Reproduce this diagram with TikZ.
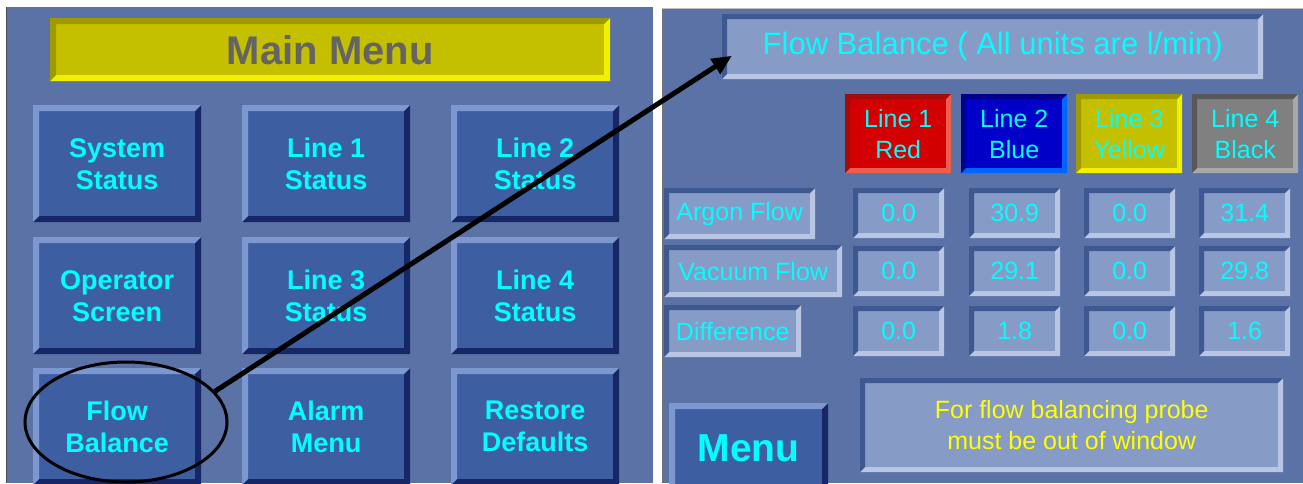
\documentclass[tikz,border=0pt]{standalone}
\usepackage{fontspec}
\newfontfamily\hmi{Liberation Sans}
\usetikzlibrary{shapes.geometric,arrows.meta}

% HMI palette
\definecolor{panel}{RGB}{90,114,166}
\definecolor{btnface}{RGB}{61,94,160}
\definecolor{btnlight}{RGB}{125,152,208}
\definecolor{btndark}{RGB}{22,38,102}
\definecolor{wellface}{RGB}{134,155,198}
\definecolor{welldark}{RGB}{62,88,146}
\definecolor{welllight}{RGB}{184,198,228}
\definecolor{lampyellow}{RGB}{196,192,0}
\definecolor{lampyellowdk}{RGB}{158,154,0}
\definecolor{lampyellowlt}{RGB}{240,240,0}
\definecolor{lampred}{RGB}{210,0,0}
\definecolor{lampreddk}{RGB}{165,10,10}
\definecolor{lampredlt}{RGB}{238,95,75}
\definecolor{lampblue}{RGB}{0,0,200}
\definecolor{lampbluedk}{RGB}{0,0,140}
\definecolor{lampbluelt}{RGB}{0,100,255}
\definecolor{lampgray}{RGB}{128,128,128}
\definecolor{lampgraydk}{RGB}{88,88,88}
\definecolor{lampgraylt}{RGB}{168,168,168}
\definecolor{hmicyan}{RGB}{0,255,255}
\definecolor{hmiyellow}{RGB}{255,255,0}
\definecolor{menugray}{RGB}{100,100,100}

\tikzset{
  % bevelled rectangle: face, top/left edge, bottom/right edge, edge width
  bevel/.style n args={4}{fill=#1, draw=none, inner sep=0pt, align=center,
    path picture={
      \fill[#2] (path picture bounding box.north west)
        -- (path picture bounding box.north east)
        -- ([xshift=-#4,yshift=-#4]path picture bounding box.north east)
        -- ([xshift=#4,yshift=-#4]path picture bounding box.north west)
        -- ([xshift=#4,yshift=#4]path picture bounding box.south west)
        -- (path picture bounding box.south west) -- cycle;
      \fill[#3] (path picture bounding box.south east)
        -- (path picture bounding box.south west)
        -- ([xshift=#4,yshift=#4]path picture bounding box.south west)
        -- ([xshift=-#4,yshift=#4]path picture bounding box.south east)
        -- ([xshift=-#4,yshift=-#4]path picture bounding box.north east)
        -- (path picture bounding box.north east) -- cycle;
    }},
  box/.style 2 args={minimum width=#1, minimum height=#2, anchor=north west},
  raised/.style={bevel={btnface}{btnlight}{btndark}{6pt}},
  well/.style={bevel={wellface}{welldark}{welllight}{5pt}},
  menukey/.style={raised, box={168}{117}, text=hmicyan,
    font=\hmi\bfseries\fontsize{27}{32}\selectfont},
  lamp/.style n args={3}{bevel={#1}{#2}{#3}{5pt}, box={106}{79}, text=hmicyan,
    font=\hmi\fontsize{25}{31}\selectfont},
  readout/.style={well, box={91}{50}, text=hmicyan,
    font=\hmi\fontsize{25}{30}\selectfont},
  rowlabel/.style={well, text=hmicyan, font=\hmi\fontsize{25}{30}\selectfont},
}

\begin{document}
\begin{tikzpicture}[x=1pt,y=-1pt]
\useasboundingbox (0,0) rectangle (1303,483);
\fill[white] (0,0) rectangle (1303,483);

% ---------- main menu screen ----------
\fill[panel] (7,7) rectangle (653,483);
\draw[black!70, line width=1] (6.5,7) -- (6.5,483);

\node[bevel={lampyellow}{lampyellowdk}{lampyellowlt}{6pt}, box={560}{63},
      text=menugray, font=\hmi\bfseries\fontsize{40}{44}\selectfont]
      (mainmenu) at (50,18) {Main Menu};

\node[menukey] (sys)  at (33,105)  {System\\Status};
\node[menukey] (l1)   at (242,105) {Line 1\\Status};
\node[menukey] (l2)   at (451,105) {Line 2\\Status};
\node[menukey] (op)   at (33,237)  {Operator\\Screen};
\node[menukey] (l3)   at (242,237) {Line 3\\Status};
\node[menukey] (l4)   at (451,237) {Line 4\\Status};
\node[menukey] (flow) at (33,368)  {Flow\\Balance};
\node[menukey] (alarm) at (242,368) {Alarm\\Menu};
\node[menukey] (restore) at (451,368) {Restore\\Defaults};

% ---------- flow balance screen ----------
\fill[panel] (662,8) rectangle (1303,483);
\draw[black!55, line width=1] (662.5,8) -- (662.5,483);
\draw[black!25!white, line width=1] (662,8.5) -- (1303,8.5);

\node[well, box={541}{65}, text=hmicyan, font=\hmi\fontsize{31}{34}\selectfont]
      (fbtitle) at (722,14) {Flow Balance ( All units are l/min)};

\node[lamp={lampred}{lampreddk}{lampredlt}]       (red)    at (845,94)  {Line 1\\Red};
\node[lamp={lampblue}{lampbluedk}{lampbluelt}]    (blue)   at (961,94)  {Line 2\\Blue};
\node[lamp={lampyellow}{lampyellowdk}{lampyellowlt}] (yellow) at (1076,94) {Line 3\\Yellow};
\node[lamp={lampgray}{lampgraydk}{lampgraylt}]    (black)  at (1192,94) {Line 4\\Black};

\node[rowlabel, box={151}{51}] (argon)  at (664,188) {Argon Flow};
\node[rowlabel, box={178}{52}] (vacuum) at (664,245) {Vacuum Flow};
\node[rowlabel, box={137}{52}] (diff)   at (664,305) {Difference};

\node[readout] (a1) at (853,188)  {0.0};
\node[readout] (a2) at (969,188)  {30.9};
\node[readout] (a3) at (1084,188) {0.0};
\node[readout] (a4) at (1199,188) {31.4};

\node[readout] (v1) at (853,246)  {0.0};
\node[readout] (v2) at (969,246)  {29.1};
\node[readout] (v3) at (1084,246) {0.0};
\node[readout] (v4) at (1199,246) {29.8};

\node[readout] (d1) at (853,306)  {0.0};
\node[readout] (d2) at (969,306)  {1.8};
\node[readout] (d3) at (1084,306) {0.0};
\node[readout] (d4) at (1199,306) {1.6};

\node[raised, box={159}{90}, text=hmicyan,
      font=\hmi\bfseries\fontsize{39}{42}\selectfont] (menu) at (669,403) {Menu};

\node[well, box={423}{94}, text=hmiyellow, font=\hmi\fontsize{25}{31}\selectfont]
      (note) at (860,378) {For flow balancing probe\\must be out of window};

% ---------- callout ----------
\node[ellipse, draw=black, line width=3, minimum width=202, minimum height=120,
      inner sep=0pt] (ring) at (126,422) {};
\draw[line width=5, -{Triangle[length=20pt,width=17pt]}]
      (ring.19) -- ([xshift=10pt,yshift=-9pt]fbtitle.west);
\end{tikzpicture}
\end{document}
